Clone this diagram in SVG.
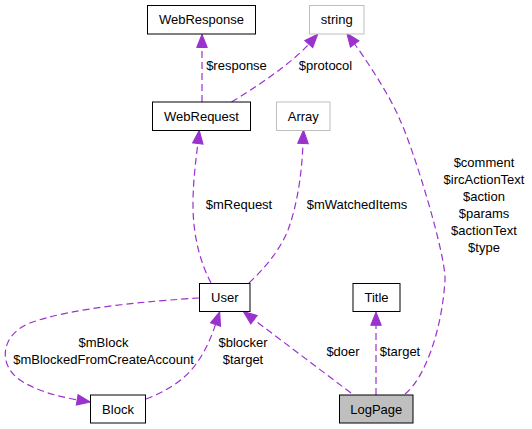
<svg xmlns="http://www.w3.org/2000/svg" width="532" height="429" viewBox="0 0 532 429">
<style>
  .node rect { fill: #ffffff; stroke: #000000; stroke-width: 1; }
  .node.ext rect { stroke: #bfbfbf; }
  .node.main rect { fill: #bfbfbf; }
  text { font-family: "Liberation Sans", Arial, Helvetica, sans-serif; font-size: 13px; fill: #000000; }
  .node text { text-anchor: middle; }
  .lbl { text-anchor: middle; }
  .edge { fill: none; stroke: #9a32cd; stroke-width: 1.2; stroke-dasharray: 7,4; marker-end: url(#arr); }
</style>
<defs>
  <marker id="arr" markerUnits="userSpaceOnUse" viewBox="0 -6 14 12" markerWidth="14" markerHeight="12" refX="0" refY="0" orient="auto" overflow="visible">
    <path d="M0,-5.3 L13.3,0 L0,5.3 z" fill="#9a32cd" stroke="#9a32cd" stroke-width="1"/>
  </marker>
</defs>
<rect x="0" y="0" width="532" height="429" fill="#ffffff"/>

<g id="edges">
  <path class="edge" d="M202,102 L202,47.5"/>
  <path class="edge" d="M231.5,102 C250,91 290,65 308.8,44.1"/>
  <path class="edge" d="M405,394 C425,378 442,330 445,280 C446,255 414,150 400,120 C390,95 362,54 354.7,44"/>
  <path class="edge" d="M211,283 C200,262 193,235 193,205 C193,180 196,160 197.8,143.5"/>
  <path class="edge" d="M249,283 C265,268 280,250 288,230 C298,203 302,170 303,143.5"/>
  <path class="edge" d="M199,298 C150,301 70,308 30,323 C0,335 -2,365 20,380 C35,390 55,396 77.2,399.8"/>
  <path class="edge" d="M146,399 C165,392 185,380 196,364 C205,352 211,338 215.5,324.5"/>
  <path class="edge" d="M351,393 L254,319.7"/>
  <path class="edge" d="M376,395 L376,325.3"/>
  <text class="lbl" x="236.5" y="70">$response</text>
  <text class="lbl" x="325.5" y="70">$protocol</text>
  <text class="lbl" x="239" y="209">$mRequest</text>
  <text class="lbl" x="357" y="209">$mWatchedItems</text>
  <text class="lbl" x="484" y="167">$comment</text>
  <text class="lbl" x="484" y="184">$ircActionText</text>
  <text class="lbl" x="484" y="201">$action</text>
  <text class="lbl" x="484" y="218">$params</text>
  <text class="lbl" x="484" y="235">$actionText</text>
  <text class="lbl" x="484" y="252">$type</text>
  <text class="lbl" x="103.5" y="347">$mBlock</text>
  <text class="lbl" x="103.5" y="364">$mBlockedFromCreateAccount</text>
  <text class="lbl" x="243" y="347">$blocker</text>
  <text class="lbl" x="243" y="364">$target</text>
  <text class="lbl" x="343" y="356">$doer</text>
  <text class="lbl" x="400" y="356">$target</text>
</g>

<g id="WebResponse" class="node"><rect x="147.5" y="5.5" width="108" height="28.5"/><text x="201.5" y="24">WebResponse</text></g>
<g id="string" class="node ext"><rect x="309.5" y="5.5" width="54.5" height="28.5"/><text x="336.75" y="24">string</text></g>
<g id="WebRequest" class="node"><rect x="152.5" y="102" width="98" height="28.5"/><text x="201.5" y="120.5">WebRequest</text></g>
<g id="Array" class="node ext"><rect x="276.5" y="102" width="53.5" height="28.5"/><text x="303.25" y="120.5">Array</text></g>
<g id="User" class="node"><rect x="199.5" y="283.5" width="50.5" height="28"/><text x="224.75" y="302">User</text></g>
<g id="Title" class="node"><rect x="353" y="283.5" width="47" height="28"/><text x="376.5" y="302">Title</text></g>
<g id="Block" class="node"><rect x="90.5" y="395" width="55" height="28"/><text x="118" y="413.5">Block</text></g>
<g id="LogPage" class="node main"><rect x="339.5" y="395" width="73.5" height="28"/><text x="376.25" y="413.5">LogPage</text></g>
</svg>
